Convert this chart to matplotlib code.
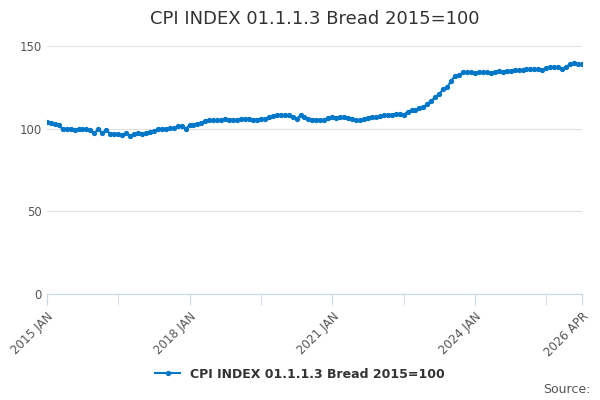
import numpy as np
import matplotlib.pyplot as plt

values = [
    104, 103.5, 103, 102.5, 99.5, 100, 100, 99, 99.5, 100, 99.5, 99,          # 2015
    97.5, 99.5, 97.5, 99, 97, 97, 96.5, 96, 97.5, 95.5, 97, 97.5,             # 2016
    97, 97.5, 98, 98.5, 99.5, 100, 100, 100.5, 100.5, 101.5, 101.5, 100,      # 2017
    102, 102.5, 103, 103.5, 104.5, 105, 105, 105, 105, 106, 105.5, 105.5,     # 2018
    105, 106, 106, 106, 105.5, 105.5, 106, 106, 107, 107.5, 108, 108.5,       # 2019
    108, 108, 107, 106, 108, 107, 106, 105.5, 105.5, 105, 105.5, 106.5,       # 2020
    107, 106.5, 107, 107, 106.5, 106, 105, 105, 106, 106.5, 107, 107,         # 2021
    107.5, 108, 108, 108.5, 109, 109, 108.5, 110, 111, 111, 112.5, 113,       # 2022
    115, 117, 119, 121, 124, 125, 129, 132, 132.5, 134, 134, 134,             # 2023
    133.5, 134, 134, 134, 133.5, 134.5, 135, 134.5, 135, 135, 135.5, 135.5,   # 2024
    135.5, 136, 136, 136, 136, 135.5, 136.5, 137, 137, 137.5, 136, 137.5,     # 2025
    139, 139.5, 139, 139, 139.5, 139, 139.5, 140.5, 141, 141, 140.5, 140.5,   # tail
]
n = 136
values = values[:n]
x = np.arange(n)

plt.rcParams['font.family'] = ['DejaVu Sans']
fig, ax = plt.subplots(figsize=(6, 4), dpi=100)
fig.subplots_adjust(left=0.078, right=0.97, top=0.885, bottom=0.265)

ax.plot(x, values, color='#0077c8', marker='o', markersize=2.8, linewidth=1.5,
        label='CPI INDEX 01.1.1.3 Bread 2015=100')
ax.set_xlim(0, n - 1)
ax.set_ylim(0, 150)
ax.set_yticks([0, 50, 100, 150])
ax.grid(axis='y', color='#e0e0e0', linewidth=0.8)
ax.set_axisbelow(True)
for s in ['top', 'right', 'left']:
    ax.spines[s].set_visible(False)
ax.spines['bottom'].set_color('#ccd6eb')

ax.set_xticks([0, 36, 72, 108, 135])
ax.set_xticklabels(['2015 JAN', '2018 JAN', '2021 JAN', '2024 JAN', '2026 APR'],
                   rotation=45, ha='right', rotation_mode='anchor')
ax.set_xticks([18, 54, 90, 126], minor=True)
ax.tick_params(axis='x', which='both', length=8, color='#ccd6eb', labelsize=8.5, labelcolor='#555555')
ax.tick_params(axis='y', length=0, labelsize=8.5, labelcolor='#555555')

ax.set_title('CPI INDEX 01.1.1.3 Bread 2015=100', fontsize=13, color='#333333', pad=16)
leg = fig.legend(loc='lower center', bbox_to_anchor=(0.5, 0.02), frameon=False, fontsize=9)
for t in leg.get_texts():
    t.set_fontweight('bold')
    t.set_color('#333333')
fig.text(0.985, 0.01, 'Source:', ha='right', va='bottom', fontsize=9, color='#555555')

fig.savefig('out.png', dpi=100)
